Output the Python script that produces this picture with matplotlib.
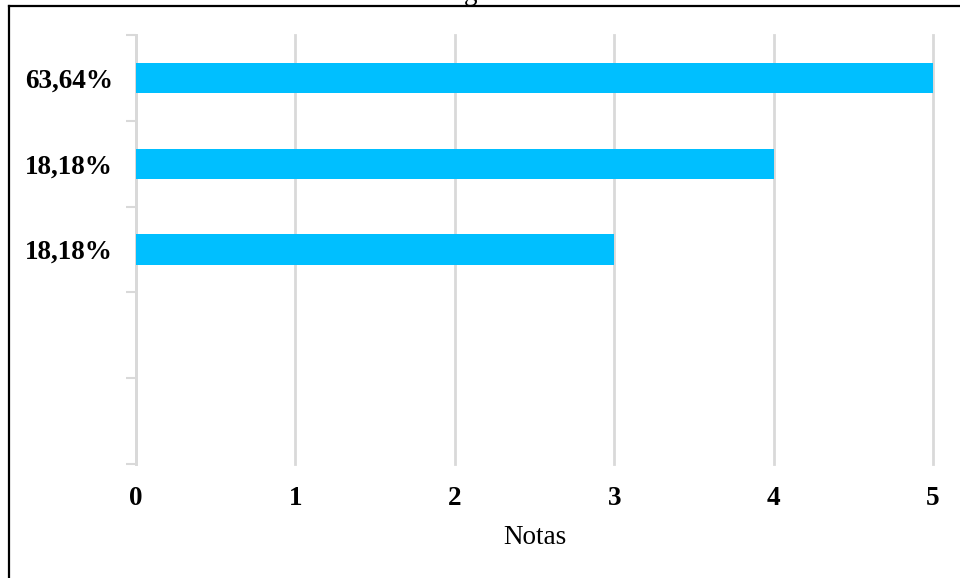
import matplotlib

matplotlib.use("Agg")

import matplotlib.pyplot as plt
from matplotlib.lines import Line2D
import numpy as np

plt.rcParams["font.family"] = ["Liberation Serif", "DejaVu Serif"]

# Category labels (top to bottom) and the grade for each bar; the last two slots are empty
PERCENT_LABELS = ["63,64%", "18,18%", "18,18%", "", ""]
NOTAS = [5, 4, 3, np.nan, np.nan]
X_TICKS = [0, 1, 2, 3, 4, 5]

BAR_COLOR = "#00BFFF"
GRID_COLOR = "#D9D9D9"

W, H = 960, 578
fig = plt.figure(figsize=(W / 100, H / 100), dpi=100)
ax = fig.add_axes([136 / W, 1 - 464 / H, (933 - 136) / W, (464 - 35) / H])

y = np.arange(len(PERCENT_LABELS))
values = np.array(NOTAS, dtype=float)
has_bar = ~np.isnan(values)
ax.barh(y[has_bar], values[has_bar], height=0.35, color=BAR_COLOR, zorder=3)

ax.set_xlim(0, 5)
ax.set_ylim(len(PERCENT_LABELS) - 0.5, -0.5)

ax.set_xticks(X_TICKS)
ax.set_xticklabels([str(t) for t in X_TICKS], fontsize=19.5, fontweight="bold")
ax.tick_params(axis="x", length=0, pad=16)
ax.grid(True, axis="x", color=GRID_COLOR, linewidth=2, zorder=0)
for line in ax.get_xgridlines():
    line.set_clip_on(False)

ax.set_yticks(y)
ax.set_yticklabels(PERCENT_LABELS, fontsize=19.5, fontweight="bold")
ax.tick_params(axis="y", which="major", length=0, pad=16.5)
ax.set_yticks(np.arange(len(PERCENT_LABELS) + 1) - 0.5, minor=True)
ax.tick_params(axis="y", which="minor", length=7, width=1.5, color=GRID_COLOR, direction="out")

for side in ("top", "right", "bottom"):
    ax.spines[side].set_visible(False)
ax.spines["left"].set_color(GRID_COLOR)
ax.spines["left"].set_linewidth(2)

ax.set_xlabel("Notas", fontsize=19.5, labelpad=10)

# outer frame lines and the clipped heading above the chart
fig.add_artist(Line2D([8.5 / W, 1], [1 - 6 / H, 1 - 6 / H], color="black", linewidth=1.6,
                      transform=fig.transFigure))
fig.add_artist(Line2D([8.5 / W, 8.5 / W], [0, 1 - 6 / H], color="black", linewidth=1.6,
                      transform=fig.transFigure))
fig.text(471 / W, 1.0, "g", fontsize=19.5, ha="center", va="baseline")

fig.savefig("out.png", dpi=100)
